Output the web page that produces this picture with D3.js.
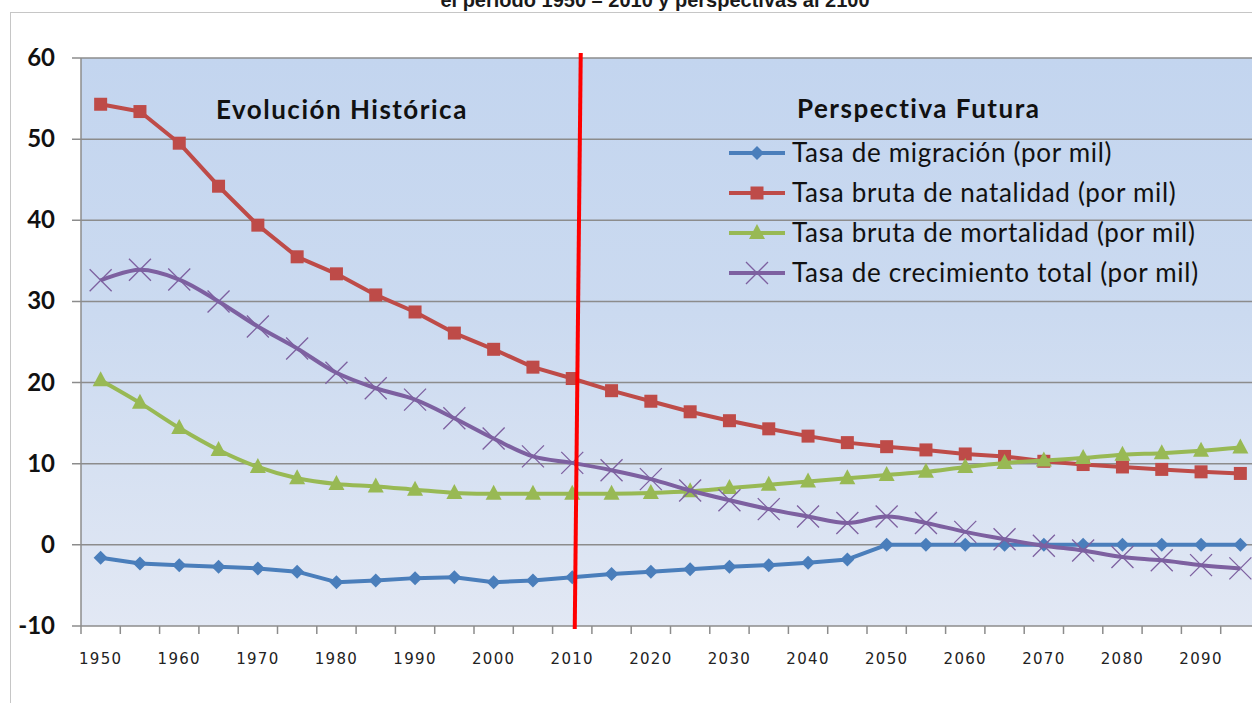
<!DOCTYPE html>
<html>
<head>
<meta charset="utf-8">
<script src="https://cdn.jsdelivr.net/npm/d3@7"></script>
<style>
  body { margin: 0; background: #fff; }
  svg { display: block; }
</style>
</head>
<body>
<svg id="chart" width="1252" height="703"></svg>
<script>
// years 1950..2095, every 5 years
const years = [1950, 1955, 1960, 1965, 1970, 1975, 1980, 1985, 1990, 1995,
    2000, 2005, 2010, 2015, 2020, 2025, 2030, 2035, 2040, 2045,
    2050, 2055, 2060, 2065, 2070, 2075, 2080, 2085, 2090, 2095];

const migracion = [-1.6, -2.3, -2.5, -2.7, -2.9, -3.3, -4.6, -4.4, -4.1, -4.0,
    -4.6, -4.4, -4.0, -3.6, -3.3, -3.0, -2.7, -2.5, -2.2, -1.8,
    0, 0, 0, 0, 0, 0, 0, 0, 0, 0];
const natalidad = [54.3, 53.4, 49.5, 44.2, 39.4, 35.5, 33.4, 30.8, 28.7, 26.1,
    24.1, 21.9, 20.5, 19.0, 17.7, 16.4, 15.3, 14.3, 13.4, 12.6,
    12.1, 11.7, 11.2, 10.9, 10.3, 9.9, 9.6, 9.3, 9.0, 8.8];
const mortalidad = [20.3, 17.5, 14.4, 11.7, 9.6, 8.2, 7.5, 7.2, 6.8, 6.4,
    6.3, 6.3, 6.3, 6.3, 6.4, 6.6, 7.0, 7.4, 7.8, 8.2,
    8.6, 9.0, 9.6, 10.1, 10.4, 10.7, 11.1, 11.3, 11.6, 12.0];
const crecimiento = [32.6, 33.9, 32.7, 30.0, 26.9, 24.2, 21.2, 19.3, 17.9, 15.6,
    13.1, 10.9, 10.1, 9.2, 8.1, 6.7, 5.5, 4.4, 3.5, 2.7,
    3.5, 2.7, 1.6, 0.7, -0.1, -0.7, -1.5, -1.9, -2.5, -2.9];

const seriesNames = [
    "Tasa de migración (por mil)",
    "Tasa bruta de natalidad (por mil)",
    "Tasa bruta de mortalidad (por mil)",
    "Tasa de crecimiento total (por mil)"
];
const yTicks = [-10, 0, 10, 20, 30, 40, 50, 60];
const xLabels = [1950, 1960, 1970, 1980, 1990, 2000, 2010, 2020, 2030, 2040, 2050, 2060, 2070, 2080, 2090];

const svg = d3.select("#chart");

const plot = { left: 81, right: 1260, top: 58, bottom: 626 };

const x = d3.scaleBand()
    .domain(years)
    .range([plot.left, plot.right]);
const xc = d => x(d) + x.bandwidth() / 2;

const y = d3.scaleLinear()
    .domain([-10, 60])
    .range([plot.bottom, plot.top]);

// outer frame
svg.append("rect")
    .attr("x", 10.5).attr("y", 12.5)
    .attr("width", 1300).attr("height", 760)
    .attr("fill", "none")
    .attr("stroke", "#c6c6c6");

// title (cut off at the top, as in the source picture)
svg.append("text")
    .attr("x", 655).attr("y", 7)
    .attr("text-anchor", "middle")
    .attr("font-family", "Liberation Sans Narrow, Liberation Sans, sans-serif")
    .attr("font-weight", "bold")
    .attr("font-size", 20)
    .attr("fill", "#1a1a1a")
    .text("el período 1950 – 2010 y perspectivas al 2100");

// plot background gradient
const defs = svg.append("defs");
const grad = defs.append("linearGradient")
    .attr("id", "bg").attr("x1", 0).attr("y1", 0).attr("x2", 0).attr("y2", 1);
grad.append("stop").attr("offset", "0%").attr("stop-color", "#c3d5ef");
grad.append("stop").attr("offset", "45%").attr("stop-color", "#cbdaf0");
grad.append("stop").attr("offset", "100%").attr("stop-color", "#e2e8f4");

svg.append("rect")
    .attr("x", plot.left).attr("y", plot.top)
    .attr("width", plot.right - plot.left)
    .attr("height", plot.bottom - plot.top)
    .attr("fill", "url(#bg)");

// gridlines
svg.append("g")
    .selectAll("line")
    .data(yTicks)
    .enter().append("line")
    .attr("x1", plot.left - 9).attr("x2", plot.right)
    .attr("y1", d => y(d)).attr("y2", d => y(d))
    .attr("stroke", "#8c8c8c")
    .attr("stroke-width", 1.5);

// y axis line
svg.append("line")
    .attr("x1", plot.left).attr("x2", plot.left)
    .attr("y1", plot.top).attr("y2", plot.bottom)
    .attr("stroke", "#8c8c8c").attr("stroke-width", 1.5);

// y labels
svg.append("g")
    .selectAll("text")
    .data(yTicks)
    .enter().append("text")
    .attr("x", 55)
    .attr("y", d => y(d) + 8)
    .attr("text-anchor", "end")
    .attr("font-family", "Lato, sans-serif")
    .attr("font-weight", "bold")
    .attr("font-size", 24)
    .attr("fill", "#111")
    .text(d => d);

// x ticks at category boundaries
const bounds = years.map(d => x(d)).concat([plot.right]);
svg.append("g")
    .selectAll("line")
    .data(bounds)
    .enter().append("line")
    .attr("x1", d => d).attr("x2", d => d)
    .attr("y1", plot.bottom).attr("y2", plot.bottom + 8)
    .attr("stroke", "#8c8c8c").attr("stroke-width", 1.5);

// x labels
svg.append("g")
    .selectAll("text")
    .data(xLabels)
    .enter().append("text")
    .attr("x", d => xc(d))
    .attr("y", 664)
    .attr("text-anchor", "middle")
    .attr("font-family", "DejaVu Sans, Verdana, sans-serif")
    .attr("font-size", 15)
    .attr("letter-spacing", 1.3)
    .attr("fill", "#222")
    .text(d => d);

// section captions
const captions = [
    { text: "Evolución Histórica", x: 216, y: 119 },
    { text: "Perspectiva Futura", x: 797, y: 118 }
];
svg.append("g")
    .selectAll("text")
    .data(captions)
    .enter().append("text")
    .attr("x", d => d.x).attr("y", d => d.y)
    .attr("font-family", "Lato, sans-serif")
    .attr("font-weight", "bold")
    .attr("font-size", 26)
    .attr("letter-spacing", 1.5)
    .attr("fill", "#111")
    .text(d => d.text);

// series
const colors = ["#4a7ebb", "#be4b48", "#98b954", "#7d60a0"];
const data = [migracion, natalidad, mortalidad, crecimiento];
const curves = [d3.curveLinear, d3.curveLinear, d3.curveCatmullRom.alpha(0.5), d3.curveCatmullRom.alpha(0.5)];

function marker(g, i, cx, cy) {
    const c = colors[i];
    if (i === 0) {
        g.append("path")
            .attr("d", `M${cx},${cy - 7}L${cx + 7},${cy}L${cx},${cy + 7}L${cx - 7},${cy}Z`)
            .attr("fill", c);
    } else if (i === 1) {
        g.append("rect")
            .attr("x", cx - 6.5).attr("y", cy - 6.5)
            .attr("width", 13).attr("height", 13)
            .attr("fill", c);
    } else if (i === 2) {
        g.append("path")
            .attr("d", `M${cx},${cy - 9}L${cx + 8},${cy + 6}L${cx - 8},${cy + 6}Z`)
            .attr("fill", c);
    } else {
        g.append("path")
            .attr("d", `M${cx - 11},${cy - 11}L${cx + 11},${cy + 11}M${cx + 11},${cy - 11}L${cx - 11},${cy + 11}`)
            .attr("stroke", c)
            .attr("stroke-width", 1.3)
            .attr("fill", "none");
    }
}

const seriesG = svg.append("g");
data.forEach((vals, i) => {
    const pts = years.map((yr, k) => ({ yr, v: vals[k] }));
    const line = d3.line()
        .x(d => xc(d.yr))
        .y(d => y(d.v))
        .curve(curves[i]);
    const g = seriesG.append("g");
    g.append("path")
        .datum(pts)
        .attr("d", line)
        .attr("fill", "none")
        .attr("stroke", colors[i])
        .attr("stroke-width", 4)
        .attr("stroke-linejoin", "round");
    pts.forEach(p => marker(g, i, xc(p.yr), y(p.v)));
});

// red divider near 2010
const divX = xc(2010);
svg.append("line")
    .attr("x1", divX + 8.5).attr("y1", plot.top - 5)
    .attr("x2", divX + 2.5).attr("y2", plot.bottom + 3)
    .attr("stroke", "#ff0000")
    .attr("stroke-width", 4);

// legend
const legend = svg.append("g");
seriesNames.forEach((name, i) => {
    const ly = 153 + i * 40;
    legend.append("line")
        .attr("x1", 729).attr("x2", 785)
        .attr("y1", ly).attr("y2", ly)
        .attr("stroke", colors[i])
        .attr("stroke-width", 4);
    marker(legend, i, 757, ly);
    legend.append("text")
        .attr("x", 792).attr("y", ly + 9)
        .attr("font-family", "Lato, sans-serif")
        .attr("font-size", 26)
        .attr("letter-spacing", 0.7)
        .attr("fill", "#111")
        .text(name);
});
</script>
</body>
</html>
